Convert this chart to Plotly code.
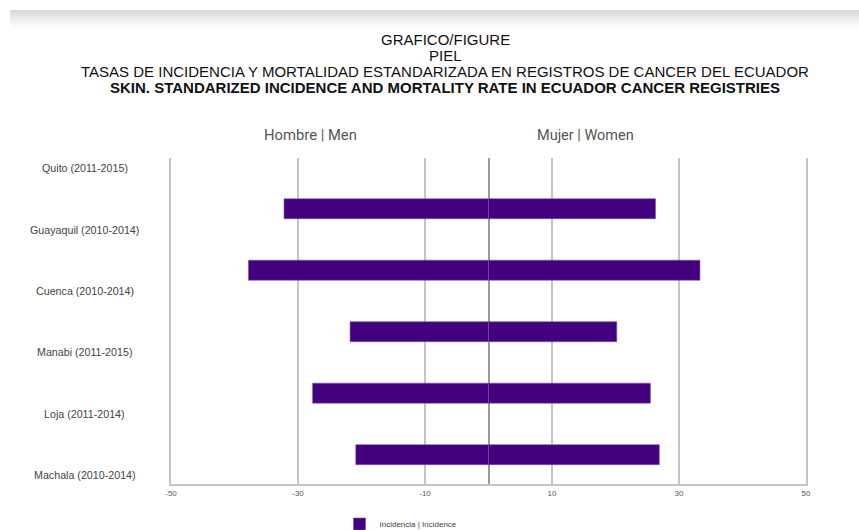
import plotly.graph_objects as go

# ---- data ----
registries = ["Quito (2011-2015)", "Guayaquil (2010-2014)", "Cuenca (2010-2014)",
              "Manabi (2011-2015)", "Loja (2011-2014)", "Machala (2010-2014)"]
men_incidence = [None, -32.2, -37.8, -21.8, -27.7, -20.9]
women_incidence = [None, 26.3, 33.3, 20.2, 25.5, 26.9]
x_ticks = [-50, -30, -10, 10, 30, 50]
x_ticklabels = ["-50", "-30", "-10", "10", "30", "50"]

W, H = 859, 530
L, R, T, B = 171, 806, 158, 484


def px(x):
    return (x - L) / (R - L)


def py(y):
    return (B - y) / (B - T)


BAR = "#42007f"
fig = go.Figure()
fig.add_trace(go.Bar(y=registries, x=men_incidence, orientation="h",
                     name="Incidencia | Incidence", legendgroup="inc",
                     marker=dict(color=BAR, line=dict(color="#7a55a8", width=0.6)),
                     width=0.325, offset=-0.5))
fig.add_trace(go.Bar(y=registries, x=women_incidence, orientation="h",
                     name="Incidencia | Incidence", legendgroup="inc", showlegend=False,
                     marker=dict(color=BAR, line=dict(color="#7a55a8", width=0.6)),
                     width=0.325, offset=-0.5))

font = "Liberation Sans, Arial, sans-serif"
ann = []
titles = [("GRAFICO/FIGURE", 39), ("PIEL", 55),
          ("TASAS DE INCIDENCIA Y MORTALIDAD ESTANDARIZADA EN REGISTROS DE CANCER DEL ECUADOR", 71),
          ("<b>SKIN. STANDARIZED INCIDENCE AND MORTALITY RATE IN ECUADOR CANCER REGISTRIES</b>", 87)]
for t, y in titles:
    ann.append(dict(text=t, x=px(445), y=py(y), xref="paper", yref="paper",
                    xanchor="center", yanchor="middle", showarrow=False, height=14,
                    font=dict(family=font, size=15, color="#111")))
ann.append(dict(text="Hombre | Men", x=px(310), y=py(135), xref="paper", yref="paper",
                xanchor="center", yanchor="middle", showarrow=False,
                font=dict(family="Roboto, Arial, sans-serif", size=14.8, color="#555")))
ann.append(dict(text="Mujer | Women", x=px(585), y=py(136), xref="paper", yref="paper",
                xanchor="center", yanchor="middle", showarrow=False,
                font=dict(family="Roboto, Arial, sans-serif", size=14.5, color="#555")))
for i, name in enumerate(registries):
    ann.append(dict(text=name, x=px(84.5), y=i, xref="paper", yref="y",
                    xanchor="center", yanchor="middle", showarrow=False,
                    font=dict(family=font, size=10.7, color="#444")))

shapes = []
grays = ["#dadada", "#dedede", "#e3e3e3", "#e8e8e8", "#ededed", "#f1f1f1", "#f5f5f5", "#f9f9f9", "#fcfcfc"]
for k, g in enumerate(grays):
    shapes.append(dict(type="rect", xref="paper", yref="paper",
                       x0=px(10), x1=px(W), y0=py(10 + 2 * k), y1=py(12 + 2 * k),
                       fillcolor=g, line=dict(width=0), layer="below"))

fig.update_layout(
    width=W, height=H,
    margin=dict(l=L, r=W - R, t=T, b=H - B, pad=0, autoexpand=False),
    paper_bgcolor="white", plot_bgcolor="white",
    barmode="relative",
    annotations=ann, shapes=shapes,
    showlegend=True,
    legend=dict(orientation="h", x=px(401), y=py(524), xanchor="center", yanchor="middle",
                font=dict(family=font, size=8, color="#444"), itemwidth=30),
    xaxis=dict(range=[-50, 50], tickvals=x_ticks, ticktext=x_ticklabels,
               showgrid=True, gridcolor="#c4c4c4", gridwidth=1.5,
               zeroline=True, zerolinecolor="#9a9a9a", zerolinewidth=2,
               showline=True, linecolor="#c4c4c4", linewidth=2,
               ticks="", tickfont=dict(family=font, size=8, color="#555"), fixedrange=True),
    yaxis=dict(type="category", categoryorder="array", categoryarray=registries,
               range=[5.14, -0.163], showticklabels=False, showgrid=False, zeroline=False,
               showline=True, mirror=True, linecolor="#c4c4c4", linewidth=2, ticks=""),
)

fig.write_html("out.html")
